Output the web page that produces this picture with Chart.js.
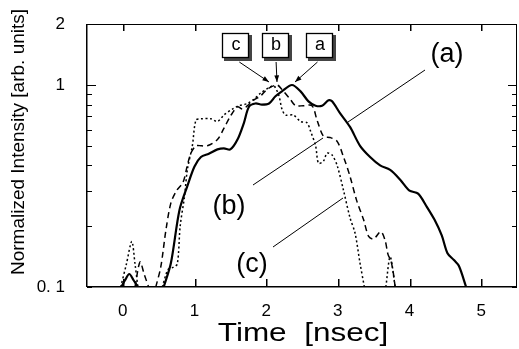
<!doctype html>
<html>
<head>
<meta charset="utf-8">
<script src="https://cdn.jsdelivr.net/npm/chart.js@4.4.0/dist/chart.umd.min.js"></script>
<style>
  html, body { margin: 0; padding: 0; background: #fff; }
  #wrap { width: 519px; height: 349px; }
</style>
</head>
<body>
<div id="wrap"><canvas id="c" width="519" height="349"></canvas></div>
<script>
// curve (a): solid, curve (b): dashed, curve (c): dotted; null = break in the trace
const timeA = [-0.02, 0.03, 0.09, 0.15, 0.21, null,
  0.57, 0.67, 0.79, 0.90, 1.00, 1.09, 1.20, 1.32, 1.41, 1.50, 1.60, 1.69, 1.76, 1.85, 1.94,
  2.04, 2.13, 2.22, 2.36, 2.48, 2.59, 2.69, 2.78, 2.87, 2.92, 3.03, 3.17, 3.31, 3.45, 3.59,
  3.73, 3.87, 4.00, 4.12, 4.24, 4.35, 4.45, 4.53, 4.62, 4.69, 4.79];
const intA = [0.1, 0.108, 0.116, 0.108, 0.1, null,
  0.1, 0.131, 0.24, 0.316, 0.395, 0.44, 0.457, 0.48, 0.486, 0.48, 0.537, 0.65, 0.78, 0.81, 0.80,
  0.81, 0.88, 0.93, 1.0, 0.93, 0.83, 0.79, 0.79, 0.84, 0.83, 0.726, 0.62, 0.50, 0.44, 0.40,
  0.38, 0.34, 0.30, 0.29, 0.25, 0.215, 0.18, 0.147, 0.136, 0.127, 0.1];

const timeB = [0.17, 0.24, 0.30, 0.36, null,
  0.46, 0.53, 0.60, 0.67, 0.75, 0.84, 0.90, 0.95, 1.02, 1.10, 1.18, 1.32, 1.41, 1.50, 1.60,
  1.67, 1.74, 1.83, 1.92, 2.01, 2.15, 2.22, 2.34, 2.41, 2.52, 2.64, 2.71, 2.80, 2.89, 2.99,
  3.08, 3.17, 3.26, 3.36, 3.43, 3.50, 3.60, 3.66, 3.70, 3.74, 3.77, 3.80];
const intB = [0.1, 0.133, 0.115, 0.1, null,
  0.1, 0.126, 0.19, 0.26, 0.30, 0.33, 0.40, 0.46, 0.50, 0.50, 0.50, 0.537, 0.61, 0.70, 0.78,
  0.76, 0.79, 0.845, 0.88, 0.95, 1.0, 0.95, 0.845, 0.79, 0.79, 0.79, 0.67, 0.557, 0.55, 0.526,
  0.44, 0.353, 0.27, 0.215, 0.178, 0.173, 0.188, 0.17, 0.145, 0.135, 0.12, 0.1];

const timeC = [-0.03, 0.05, 0.125, 0.17, 0.21, null,
  0.55, 0.63, 0.70, 0.76, 0.80, 0.86, 0.90, 0.97, 1.02, 1.09, 1.23, 1.32, 1.41, 1.53, 1.62,
  1.74, 1.83, 1.92, 2.04, 2.11, 2.18, 2.22, 2.27, 2.38, 2.48, 2.57, 2.62, 2.69, 2.73, 2.80,
  2.85, 2.92, 2.99, 3.08, 3.17, 3.24, 3.31, 3.37, null,
  3.67, 3.73, 3.80];
const intC = [0.1, 0.13, 0.168, 0.13, 0.1, null,
  0.1, 0.122, 0.125, 0.13, 0.2, 0.28, 0.38, 0.50, 0.67, 0.68, 0.68, 0.66, 0.71, 0.76, 0.79,
  0.81, 0.85, 0.91, 0.97, 0.99, 0.88, 0.76, 0.71, 0.71, 0.66, 0.65, 0.59, 0.50, 0.41, 0.42,
  0.46, 0.45, 0.40, 0.30, 0.22, 0.185, 0.131, 0.1, null,
  0.1, 0.141, 0.1];

const xTicks = [0, 1, 2, 3, 4, 5];
const yTicks = [0.1, 0.2, 0.3, 0.4, 0.5, 0.6, 0.7, 0.8, 0.9, 1, 2];
const yLabelled = [0.1, 1, 2];

const FONT = '"Liberation Sans", Arial, Helvetica, sans-serif';

function pts(xs, ys) {
  return xs.map((x, i) => ({ x: x === null ? NaN : x, y: ys[i] }));
}

function line(label, xs, ys, width, dash) {
  return {
    label, data: pts(xs, ys),
    borderColor: '#000', borderWidth: width, borderDash: dash,
    pointRadius: 0, tension: 0.3, spanGaps: false, fill: false,
  };
}

// frame, inward ticks, peak markers, curve labels and axis titles
const decor = {
  id: 'decor',
  afterDraw(chart) {
    const ctx = chart.ctx;
    const xs = chart.scales.x, ys = chart.scales.y;
    const a = chart.chartArea;
    const L = Math.round(a.left), R = Math.round(a.right);
    const T = Math.round(a.top), B = Math.round(a.bottom);
    ctx.save();
    ctx.setLineDash([]);
    ctx.fillStyle = '#000';
    ctx.strokeStyle = '#000';

    // frame
    ctx.fillRect(L, T, R - L, 1);
    ctx.fillRect(L, B - 1, R - L, 1.5);
    ctx.fillRect(L - 1, T, 1.5, B - T);
    ctx.fillRect(R - 1, T, 1, B - T);

    xTicks.forEach(v => {
      const px = Math.round(xs.getPixelForValue(v));
      ctx.fillRect(px, B - 8, 1.5, 8);
      ctx.fillRect(px, T, 1.5, 7);
    });
    yTicks.forEach(v => {
      const py = Math.round(ys.getPixelForValue(v));
      const len = (v === 1) ? 9 : 5;
      ctx.fillRect(L, py, len, 1);
      ctx.fillRect(R - len, py, len, 1);
    });

    // boxed peak markers with arrows
    const boxes = [
      { t: 'c', x: 222, tip: [269, 82] },
      { t: 'b', x: 262, tip: [277, 82] },
      { t: 'a', x: 306, tip: [295, 82] },
    ];
    boxes.forEach(b => {
      ctx.fillStyle = '#444';
      ctx.fillRect(b.x + 2, 35, 28, 26);
      ctx.fillStyle = '#fff';
      ctx.fillRect(b.x, 33, 27, 25);
      ctx.lineWidth = 1.3;
      ctx.strokeRect(b.x + 0.5, 33.5, 26, 24);
      ctx.fillStyle = '#000';
      ctx.font = '18px ' + FONT;
      ctx.textAlign = 'center';
      ctx.textBaseline = 'middle';
      ctx.fillText(b.t, b.x + 14, 45);
      const sx = b.x + 14 + (b.tip[0] - (b.x + 14)) * 0.1, sy = 62;
      ctx.lineWidth = 1;
      ctx.beginPath();
      ctx.moveTo(sx, sy); ctx.lineTo(b.tip[0], b.tip[1]);
      ctx.stroke();
      const ang = Math.atan2(b.tip[1] - sy, b.tip[0] - sx);
      ctx.beginPath();
      ctx.moveTo(b.tip[0], b.tip[1]);
      ctx.lineTo(b.tip[0] - 7 * Math.cos(ang - 0.35), b.tip[1] - 7 * Math.sin(ang - 0.35));
      ctx.lineTo(b.tip[0] - 7 * Math.cos(ang + 0.35), b.tip[1] - 7 * Math.sin(ang + 0.35));
      ctx.closePath();
      ctx.fill();
    });

    // curve labels with leader lines
    ctx.font = '27px ' + FONT;
    ctx.textAlign = 'center';
    ctx.textBaseline = 'middle';
    ctx.fillText('(a)', 447, 55);
    ctx.fillText('(b)', 229, 207);
    ctx.fillText('(c)', 252, 265);
    ctx.lineWidth = 1;
    ctx.beginPath();
    ctx.moveTo(425, 70); ctx.lineTo(348, 122);
    ctx.moveTo(323, 138); ctx.lineTo(253, 185);
    ctx.moveTo(343, 198); ctx.lineTo(273, 247);
    ctx.stroke();

    // axis titles
    ctx.save();
    ctx.translate(303, 334);
    ctx.scale(1.26, 1);
    ctx.font = '25px ' + FONT;
    ctx.fillText('Time  [nsec]', 0, 0);
    ctx.restore();

    ctx.save();
    ctx.translate(19, 142);
    ctx.rotate(-Math.PI / 2);
    ctx.scale(1.0, 1);
    ctx.font = '19px ' + FONT;
    ctx.fillText('Normalized Intensity [arb. units]', 0, 0);
    ctx.restore();

    ctx.restore();
  }
};

new Chart(document.getElementById('c'), {
  type: 'line',
  data: {
    datasets: [
      line('a', timeA, intA, 2.2, []),
      line('b', timeB, intB, 1.5, [6, 4]),
      line('c', timeC, intC, 1.5, [2, 2.5]),
    ]
  },
  options: {
    responsive: false,
    animation: false,
    layout: { padding: { top: 24, right: 2, left: 0, bottom: 0 } },
    plugins: { legend: { display: false }, tooltip: { enabled: false } },
    scales: {
      x: {
        type: 'linear', min: -0.5, max: 5.5,
        afterBuildTicks: s => { s.ticks = xTicks.map(v => ({ value: v })); },
        afterFit: s => { s.height = 62; },
        grid: { display: false },
        border: { display: false },
        ticks: { color: '#000', font: { family: FONT, size: 17 }, padding: 6,
                 maxRotation: 0, callback: v => String(v) },
      },
      y: {
        type: 'logarithmic', min: 0.1, max: 2,
        afterBuildTicks: s => { s.ticks = yTicks.map(v => ({ value: v })); },
        afterFit: s => { s.width = 87; },
        grid: { display: false },
        border: { display: false },
        ticks: { color: '#000', font: { family: FONT, size: 17 }, padding: 14,
                 autoSkip: false,
                 callback: v => yLabelled.includes(v) ? (v === 0.1 ? '0. 1' : String(v)) : '' },
      }
    }
  },
  plugins: [decor]
});
</script>
</body>
</html>
